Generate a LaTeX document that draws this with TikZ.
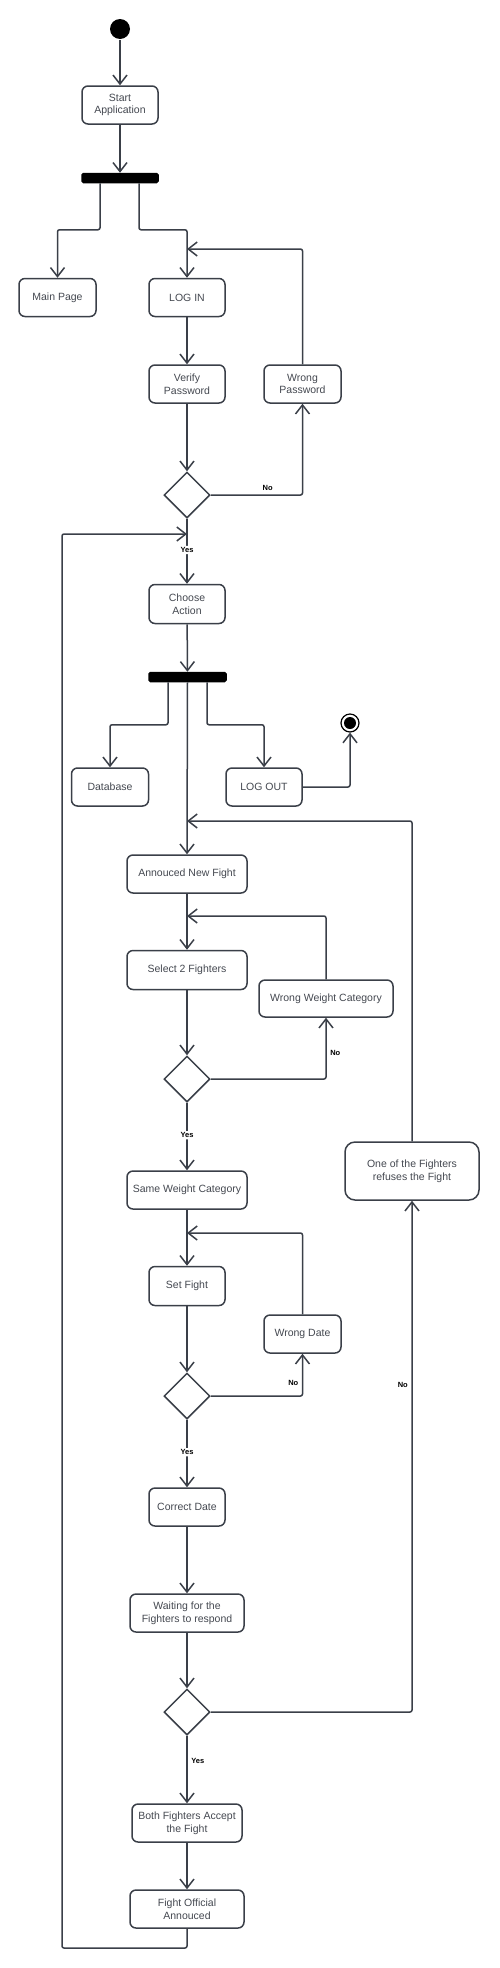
\documentclass[tikz,border=0pt]{standalone}
\usepackage{fontspec}
\setmainfont{Liberation Sans}
\usetikzlibrary{arrows.meta,shapes.geometric}
\definecolor{ink}{HTML}{3A3F48}
\definecolor{txt}{HTML}{444850}
\begin{document}
\begin{tikzpicture}[x=1pt,y=-1pt,line width=1.5pt,draw=ink,
  act/.style={draw=ink,rounded corners=6pt,align=center,text=txt,inner sep=0pt,
    font=\fontsize{10.5}{12.7}\selectfont,minimum height=38pt},
  bar/.style={fill=black,draw=black,rounded corners=1.5pt,minimum height=9pt,inner sep=0pt},
  dec/.style={diamond,draw=ink,fill=white,minimum width=46pt,minimum height=46pt,inner sep=0pt},
  arr/.style={-{Straight Barb[length=9pt,width=14pt]},rounded corners=2pt},
  lbl/.style={font=\fontsize{7.5}{8}\bfseries\selectfont,text=black,inner sep=1.5pt}]
\useasboundingbox (0,0) rectangle (499,1968);
\node[circle,fill=black,minimum size=20pt,inner sep=0pt] (start) at (120,29) {};
\node[act,minimum width=76pt] (startapp) at (120,105) {Start\\Application};
\node[bar,minimum width=76pt] (forka) at (120,178) {};
\node[act,minimum width=77pt] (mainpage) at (57.5,297.5) {Main Page};
\node[act,minimum width=76pt] (login) at (187,297.5) {LOG IN};
\node[act,minimum width=76pt] (verify) at (187,384) {Verify\\Password};
\node[act,minimum width=77pt] (wrongpw) at (302.5,384) {Wrong\\Password};
\node[dec] (deca) at (187,495) {};
\node[act,minimum width=76pt,minimum height=39pt] (choose) at (187,604) {Choose\\Action};
\node[bar,minimum width=77pt] (forkb) at (187.5,677) {};
\node[act,minimum width=77pt] (database) at (110,787) {Database};
\node[act,minimum width=76pt] (logout) at (264,787) {LOG OUT};
\node[circle,draw=black,line width=1.2pt,fill=white,minimum size=18pt,inner sep=0pt] (final) at (350,723) {};
\fill[black] (final) circle (6pt);
\node[act,minimum width=120pt] (announce) at (187,874) {Annouced New Fight};
\node[act,minimum width=120pt,minimum height=39pt] (select) at (187,970) {Select 2 Fighters};
\node[act,minimum width=134pt,minimum height=37pt] (wwc) at (326,998.5) {Wrong Weight Category};
\node[dec] (decb) at (187,1079) {};
\node[act,minimum width=120pt] (same) at (187,1190) {Same Weight Category};
\node[act,minimum width=76pt,minimum height=39pt] (setfight) at (187,1286) {Set Fight};
\node[act,minimum width=77pt] (wrongdate) at (302.5,1334) {Wrong Date};
\node[dec] (decc) at (187,1396) {};
\node[act,minimum width=76pt] (correct) at (187,1507) {Correct Date};
\node[act,minimum width=114pt] (waiting) at (187,1613) {Waiting for the\\Fighters to respond};
\node[dec] (decd) at (187,1712) {};
\node[act,minimum width=134pt,minimum height=58pt,rounded corners=10pt] (refuse) at (412,1171) {One of the Fighters\\refuses the Fight};
\node[act,minimum width=110pt] (both) at (187,1823) {Both Fighters Accept\\the Fight};
\node[act,minimum width=114pt] (official) at (187,1909) {Fight Official\\Annouced};
\coordinate (intologin) at (187,249);
\coordinate (loopin) at (187,534);
\coordinate (loopcorner) at (62,1948);
\coordinate (intoannounce) at (187,821);
\coordinate (intoselect) at (187,916);
\coordinate (intoset) at (187,1233);
\draw[arr] (start) -- (startapp);
\draw[arr] (startapp) -- (forka);
\draw[arr] ([xshift=-20pt]forka.south) -- ++(0,46.5) -| (mainpage.north);
\draw[arr] ([xshift=19pt]forka.south) -- ++(0,46.5) -| (login.north);
\draw[arr] (login) -- (verify);
\draw[arr] (verify) -- (deca);
\draw[arr] (deca.east) -| node[lbl,pos=0.31,above=2pt]{No} (wrongpw.south);
\draw[arr] (wrongpw.north) |- (intologin);
\draw[arr] (deca.south) -- node[lbl,fill=white,pos=0.48]{Yes} (choose.north);
\draw[arr] (official.south) |- (loopcorner) |- (loopin);
\draw[arr] (choose) -- (forkb);
\draw[arr] ([xshift=-19.5pt]forkb.south) -- ++(0,42.5) -| (database.north);
\draw[arr] ([xshift=19.5pt]forkb.south) -- ++(0,42.5) -| (logout.north);
\draw[arr] (forkb.south) -- (announce.north);
\draw[arr] (logout.east) -| (final.south);
\draw[arr] (announce) -- (select);
\draw[arr] (select) -- (decb);
\draw[arr] (decb.east) -| node[lbl,pos=0.71,right=2pt]{No} (wwc.south);
\draw[arr] (wwc.north) |- (intoselect);
\draw[arr] (decb.south) -- node[lbl,fill=white,pos=0.48]{Yes} (same.north);
\draw[arr] (same) -- (setfight);
\draw[arr] (setfight) -- (decc);
\draw[arr] (decc.east) -| node[lbl,pos=0.66,left=2pt]{No} (wrongdate.south);
\draw[arr] (wrongdate.north) |- (intoset);
\draw[arr] (decc.south) -- node[lbl,fill=white,pos=0.48]{Yes} (correct.north);
\draw[arr] (correct) -- (waiting);
\draw[arr] (waiting) -- (decd);
\draw[arr] (decd.east) -| node[lbl,pos=0.82,left=2pt]{No} (refuse.south);
\draw[arr] (refuse.north) |- (intoannounce);
\draw[arr] (decd.south) -- node[lbl,pos=0.38,right=2pt]{Yes} (both.north);
\draw[arr] (both) -- (official);
\end{tikzpicture}
\end{document}
